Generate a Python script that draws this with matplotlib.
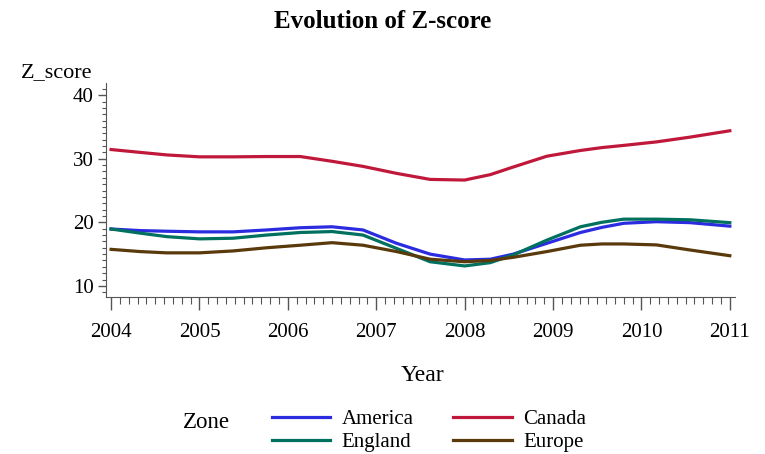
import numpy as np
import matplotlib
matplotlib.use("Agg")
import matplotlib.pyplot as plt
from matplotlib.ticker import MultipleLocator

# values
years = [2004.0, 2004.33, 2004.63, 2005.0, 2005.38, 2005.76, 2006.14, 2006.5,
         2006.85, 2007.23, 2007.61, 2008.0, 2008.29, 2008.55, 2008.93, 2009.31,
         2009.55, 2009.8, 2010.17, 2010.55, 2011.0]
america = [18.95, 18.7, 18.6, 18.5, 18.5, 18.8, 19.15, 19.3,
           18.8, 16.7, 15.0, 14.08, 14.2, 15.0, 16.7, 18.4,
           19.2, 19.85, 20.1, 19.95, 19.4]
canada = [31.45, 31.0, 30.6, 30.3, 30.3, 30.35, 30.35, 29.6,
          28.8, 27.7, 26.75, 26.65, 27.5, 28.7, 30.4, 31.3,
          31.75, 32.1, 32.65, 33.4, 34.4]
england = [18.95, 18.3, 17.75, 17.4, 17.5, 18.0, 18.4, 18.55,
           18.0, 15.9, 13.8, 13.14, 13.66, 14.87, 17.2, 19.3,
           20.0, 20.5, 20.5, 20.4, 19.95]
europe = [15.75, 15.4, 15.2, 15.2, 15.5, 16.0, 16.4, 16.8,
          16.4, 15.4, 14.2, 13.8, 14.0, 14.5, 15.4, 16.4,
          16.6, 16.6, 16.45, 15.65, 14.75]

plt.rcParams['font.family'] = ['Liberation Serif', 'DejaVu Serif']

fig = plt.figure(figsize=(7.65, 4.54), dpi=100)
ax = fig.add_axes([0.1386, 0.346, 0.822, 0.471])

lw = 2.3
l1, = ax.plot(years, america, color='#2b2be0', lw=lw, label='America')
l2, = ax.plot(years, canada, color='#c0183a', lw=lw, label='Canada')
l3, = ax.plot(years, england, color='#00705f', lw=lw, label='England')
l4, = ax.plot(years, europe, color='#5a3a0a', lw=lw, label='Europe')

ax.set_xlim(2003.943, 2011.057)
ax.set_ylim(8.27, 41.9)
ax.xaxis.set_major_locator(MultipleLocator(1))
ax.xaxis.set_minor_locator(MultipleLocator(0.1))
ax.yaxis.set_major_locator(MultipleLocator(10))
ax.yaxis.set_minor_locator(MultipleLocator(1))
ax.tick_params(which='major', axis='x', length=9, width=1, labelsize=15, pad=10)
ax.tick_params(which='minor', axis='x', length=5, width=0.8)
ax.tick_params(which='major', axis='y', length=6, width=1, labelsize=15, pad=3)
ax.tick_params(which='minor', axis='y', length=3, width=0.8)
for s in ['top', 'right']:
    ax.spines[s].set_visible(False)
for s in ['left', 'bottom']:
    ax.spines[s].set_color('#555555')
ax.tick_params(which='both', color='#555555')

fig.text(0.5, 0.953, 'Evolution of Z-score', ha='center', va='center',
         fontsize=18, fontweight='bold')
fig.text(0.027, 0.841, 'Z_score', ha='left', va='center', fontsize=16)
fig.text(0.552, 0.174, 'Year', ha='center', va='center', fontsize=17)
fig.text(0.239, 0.07, 'Zone', ha='left', va='center', fontsize=16.5)

fig.legend(handles=[l1, l3, l2, l4], ncol=2, loc='center left',
           bbox_to_anchor=(0.342, 0.051), frameon=False, fontsize=15,
           handlelength=2.79, handletextpad=0.56, columnspacing=1.9,
           labelspacing=0.16, borderpad=0)

fig.savefig('out.png', dpi=100)
